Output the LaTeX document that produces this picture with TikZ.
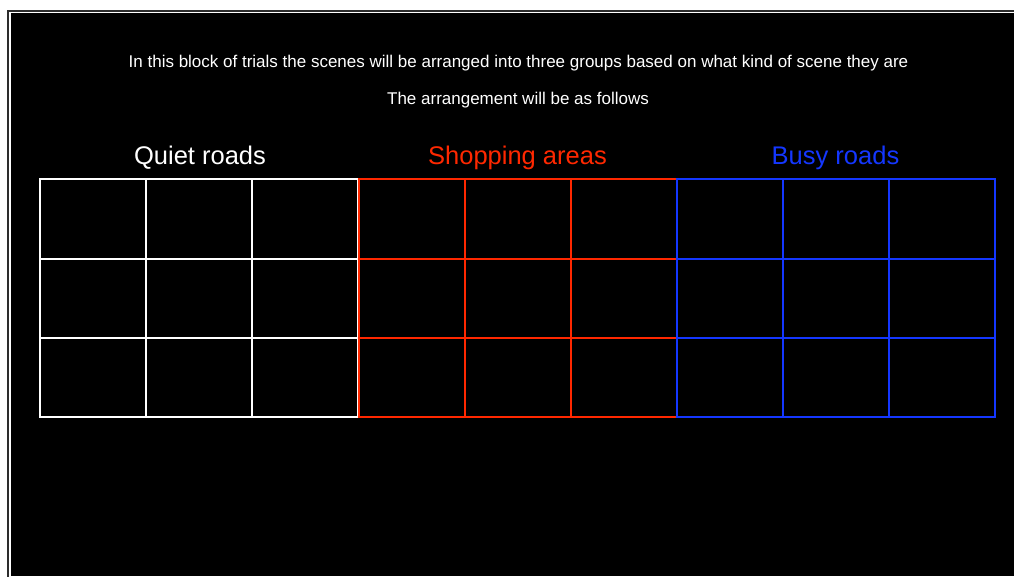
\documentclass[tikz,border=0pt]{standalone}
\usepackage{fontspec}
\setmainfont{Liberation Sans}
\definecolor{quietcol}{RGB}{255,255,255}
\definecolor{shopcol}{RGB}{255,40,0}
\definecolor{busycol}{RGB}{20,55,255}
\definecolor{framecol}{RGB}{45,45,45}
\begin{document}
\begin{tikzpicture}[x=1pt,y=-1pt,
  gridline/.style={line width=2pt},
  intro/.style={text=white,font=\fontsize{17}{20}\selectfont,anchor=base},
  heading/.style={font=\fontsize{25.5}{30}\selectfont,anchor=base}]
% page and screen
\fill[white] (0,0) rectangle (1014,576);
\useasboundingbox (0,0) rectangle (1014,576);
\draw[framecol,line width=2pt] (7.5,577) -- (7.5,10.5) -- (1015,10.5);
\fill[black] (11,13) rectangle (1014,576);
% instructions
\node[intro] (l1) at (518.5,67) {In this block of trials the scenes will be arranged into three groups based on what kind of scene they are};
\node[intro] (l2) at (518,104) {The arrangement will be as follows};
% group headings
\node[heading,text=quietcol] (hq) at (200,164) {Quiet roads};
\node[heading,text=shopcol] (hs) at (517.5,164) {Shopping areas};
\node[heading,text=busycol] (hb) at (835.5,164) {Busy roads};
% 3x3 grids, one per group
\foreach \xa/\xb/\xc/\xd/\col in {40/146/252/358/quietcol, 358.5/465/571/677/shopcol, 677/783/889/995/busycol}{
  \draw[gridline,\col] (\xa,179) rectangle (\xd,417);
  \foreach \x in {\xb,\xc} \draw[gridline,\col] (\x,179) -- (\x,417);
  \foreach \y in {258.5,338} \draw[gridline,\col] (\xa,\y) -- (\xd,\y);
}
\end{tikzpicture}
\end{document}
